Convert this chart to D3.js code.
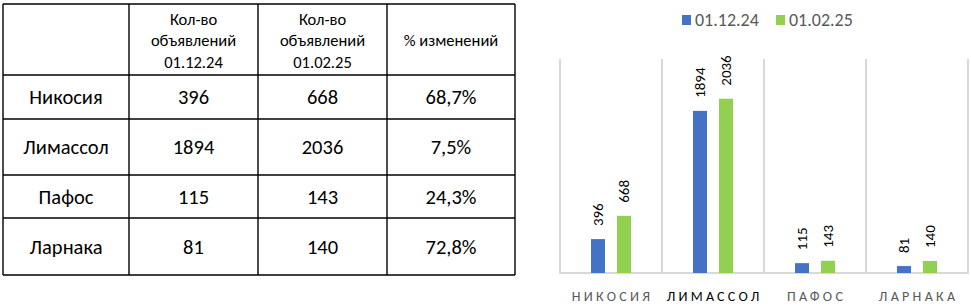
<!DOCTYPE html>
<html>
<head>
<meta charset="utf-8">
<script src="https://cdn.jsdelivr.net/npm/d3@7"></script>
<style>
  body { margin: 0; background: #fff; }
  svg text { font-family: Carlito, Calibri, "Liberation Sans", Arial, sans-serif; }
</style>
</head>
<body>
<svg id="chart" width="971" height="306"></svg>
<script>
const cities = ["Никосия", "Лимассол", "Пафос", "Ларнака"]
const dates = ["01.12.24", "01.02.25"]
const countDec = [396, 1894, 115, 81]
const countFeb = [668, 2036, 143, 140]
const headers = [[], ["Кол-во", "объявлений", "01.12.24"], ["Кол-во", "объявлений", "01.02.25"], ["% изменений"]]
const yTicks = [0, 2500]

const svg = d3.select("#chart")

// ---- table on the left
const colX = [3, 129, 258, 387, 515]
const rowY = [4, 75, 119, 175, 218, 275]

const pct = cities.map((c, i) => d3.format(".1%")(countFeb[i] / countDec[i] - 1).replace(".", ","))
const rows = cities.map((c, i) => [c, countDec[i], countFeb[i], pct[i]])

const table = svg.append("g")

colX.forEach(x => table.append("line")
    .attr("x1", x).attr("x2", x).attr("y1", rowY[0]).attr("y2", rowY[rowY.length - 1])
    .attr("stroke", "#000").attr("stroke-width", 1.4))
rowY.forEach(y => table.append("line")
    .attr("x1", colX[0]).attr("x2", colX[colX.length - 1]).attr("y1", y).attr("y2", y)
    .attr("stroke", "#000").attr("stroke-width", 1.4))

headers.forEach((lines, j) => {
    let cx = (colX[j] + colX[j + 1]) / 2
    let cy = 40.5
    lines.forEach((t, k) => table.append("text")
        .attr("x", cx)
        .attr("y", cy + (k - (lines.length - 1) / 2) * 21.5)
        .attr("dy", "0.35em")
        .attr("text-anchor", "middle")
        .attr("font-size", "16.5px")
        .attr("fill", "#000")
        .text(t))
})

rows.forEach((row, i) => row.forEach((v, j) => table.append("text")
    .attr("x", (colX[j] + colX[j + 1]) / 2)
    .attr("y", (rowY[i + 1] + rowY[i + 2]) / 2)
    .attr("dy", "0.36em")
    .attr("text-anchor", "middle")
    .attr("font-size", "20.5px")
    .attr("fill", "#000")
    .text(v)))

// ---- bar chart on the right
const colors = ["#4472C4", "#92D050"]

let x0 = d3.scaleBand().domain(cities).range([560, 968]).padding(0)
let x1 = d3.scaleBand().domain(dates).range([31, 71]).paddingInner(12 / 26).paddingOuter(0)
let y = d3.scaleLinear().domain(yTicks).range([273, 59])

const chart = svg.append("g")

// category separators
let edges = cities.map(c => x0(c)).concat([x0.range()[1]])
chart.selectAll(".sep").data(edges).enter().append("line")
    .attr("x1", d => d).attr("x2", d => d)
    .attr("y1", y(yTicks[1])).attr("y2", y(0))
    .attr("stroke", "#D9D9D9").attr("stroke-width", 2)

chart.append("line")
    .attr("x1", x0.range()[0] - 1).attr("x2", x0.range()[1] + 1)
    .attr("y1", y(0)).attr("y2", y(0))
    .attr("stroke", "#D9D9D9").attr("stroke-width", 2)

const series = [countDec, countFeb]
let groups = chart.selectAll(".city").data(cities).enter().append("g")
    .attr("transform", d => "translate(" + x0(d) + ",0)")

series.forEach((vals, s) => {
    groups.append("rect")
        .attr("x", x1(dates[s]))
        .attr("y", (d, i) => y(vals[i]))
        .attr("width", x1.bandwidth())
        .attr("height", (d, i) => y(0) - y(vals[i]))
        .attr("fill", colors[s])

    groups.append("text")
        .attr("transform", (d, i) => "translate(" + (x1(dates[s]) + x1.bandwidth() / 2) + "," + (y(vals[i]) - 13) + ") rotate(-90)")
        .attr("dy", "0.36em")
        .attr("text-anchor", "start")
        .attr("font-size", "15px")
        .attr("fill", "#000")
        .text((d, i) => vals[i])
})

// category axis labels
chart.selectAll(".cat").data(cities).enter().append("text")
    .attr("x", d => x0(d) + x0.bandwidth() / 2 + 1.6)
    .attr("y", 296)
    .attr("dy", "0.35em")
    .attr("text-anchor", "middle")
    .attr("font-size", "14px")
    .attr("letter-spacing", "3.3px")
    .attr("fill", d => d === "Лимассол" ? "#000" : "#595959")
    .text(d => d.toUpperCase())

// legend
let legend = chart.selectAll(".leg").data(dates).enter().append("g")
    .attr("transform", (d, i) => "translate(" + (682 + i * 94) + ",15)")
legend.append("rect").attr("width", 9).attr("height", 10).attr("fill", (d, i) => colors[i])
legend.append("text")
    .attr("x", 13).attr("y", 5).attr("dy", "0.36em")
    .attr("font-size", "18px")
    .attr("fill", "#595959")
    .text(d => d)
</script>
</body>
</html>
